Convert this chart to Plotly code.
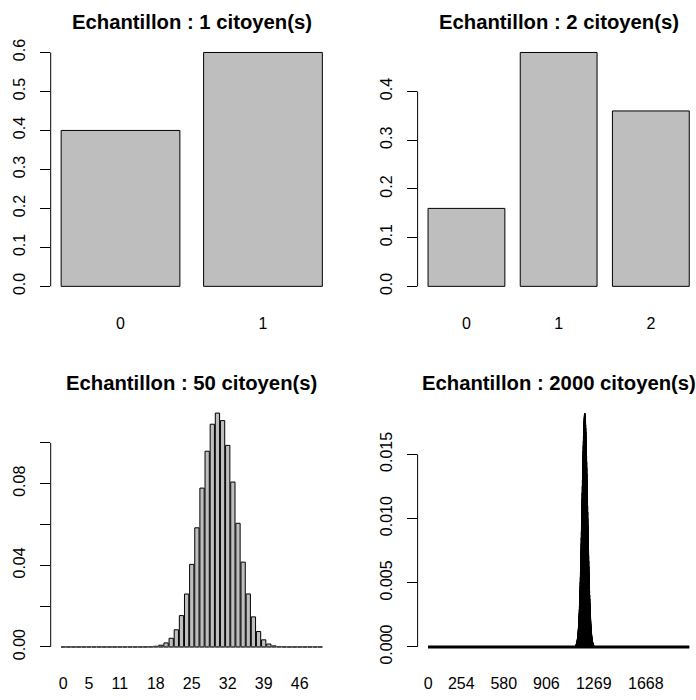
import plotly.graph_objects as go

# ---------------- data ----------------
titles = ["Echantillon : 1 citoyen(s)", "Echantillon : 2 citoyen(s)",
          "Echantillon : 50 citoyen(s)", "Echantillon : 2000 citoyen(s)"]

p1_values = [0.40, 0.60]
p1_labels = ["0", "1"]

p2_values = [0.16, 0.48, 0.36]
p2_labels = ["0", "1", "2"]

p3_values = [0, 0, 0, 0, 0, 0, 0, 0, 0, 0, 0, 0, 0,
             0.0000009, 0.0000035, 0.0000125, 0.000041, 0.000123, 0.000338,
             0.000855, 0.00199, 0.00426, 0.00842, 0.01537, 0.02594, 0.04046,
             0.05836, 0.07781, 0.09588, 0.10910, 0.11456, 0.11087, 0.09874,
             0.08079, 0.06059, 0.04155, 0.02597, 0.01474, 0.00756, 0.00349,
             0.00144, 0.000527, 0.000169, 0.0000472, 0.0000113, 0.0000023,
             0.0000004, 0, 0, 0, 0]
p3_label_idx = [0, 5, 11, 18, 25, 32, 39, 46]

# n = 2000: visible values for k = 1130 .. 1270, zero elsewhere
p4_n = 2000
p4_first_k = 1130
p4_window = [
    0.00011, 0.00013, 0.00015, 0.00017, 0.00019, 0.00022, 0.00026, 0.00029, 0.00033, 0.00038,
    0.00043, 0.00048, 0.00055, 0.00062, 0.00069, 0.00078, 0.00087, 0.00098, 0.00109, 0.00121,
    0.00135, 0.00149, 0.00165, 0.00182, 0.00201, 0.00221, 0.00242, 0.00265, 0.00290, 0.00316,
    0.00344, 0.00374, 0.00405, 0.00437, 0.00472, 0.00508, 0.00546, 0.00586, 0.00627, 0.00669,
    0.00713, 0.00758, 0.00805, 0.00852, 0.00901, 0.00950, 0.00999, 0.01050, 0.01100, 0.01150,
    0.01200, 0.01250, 0.01299, 0.01348, 0.01395, 0.01441, 0.01485, 0.01527, 0.01567, 0.01605,
    0.01641, 0.01674, 0.01704, 0.01730, 0.01754, 0.01774, 0.01791, 0.01804, 0.01813, 0.01819,
    0.01821,
    0.01819, 0.01813, 0.01804, 0.01791, 0.01774, 0.01754, 0.01730, 0.01704, 0.01674, 0.01641,
    0.01605, 0.01567, 0.01527, 0.01485, 0.01441, 0.01395, 0.01348, 0.01299, 0.01250, 0.01200,
    0.01150, 0.01100, 0.01050, 0.00999, 0.00950, 0.00901, 0.00852, 0.00805, 0.00758, 0.00713,
    0.00669, 0.00627, 0.00586, 0.00546, 0.00508, 0.00472, 0.00437, 0.00405, 0.00374, 0.00344,
    0.00316, 0.00290, 0.00265, 0.00242, 0.00221, 0.00201, 0.00182, 0.00165, 0.00149, 0.00135,
    0.00121, 0.00109, 0.00098, 0.00087, 0.00078, 0.00069, 0.00062, 0.00055, 0.00048, 0.00043,
    0.00038, 0.00033, 0.00029, 0.00026, 0.00022, 0.00019, 0.00017, 0.00015, 0.00013, 0.00011,
]
p4_values = ([0.0] * p4_first_k + p4_window +
             [0.0] * (p4_n + 1 - p4_first_k - len(p4_window)))
p4_label_idx = [0, 254, 580, 906, 1269, 1668]

y1_ticks = [0.0, 0.1, 0.2, 0.3, 0.4, 0.5, 0.6]
y1_text = ["0.0", "0.1", "0.2", "0.3", "0.4", "0.5", "0.6"]
y2_ticks = [0.0, 0.1, 0.2, 0.3, 0.4]
y2_text = ["0.0", "0.1", "0.2", "0.3", "0.4"]
y3_ticks = [0.0, 0.02, 0.04, 0.06, 0.08, 0.10]
y3_text = ["0.00", "", "0.04", "", "0.08", ""]
y4_ticks = [0.0, 0.005, 0.010, 0.015]
y4_text = ["0.000", "0.005", "0.010", "0.015"]

# ---------------- layout geometry (pixels) ----------------
W, H = 696, 700
COL_L = [50.7, 417.6]
PLOT_W = 282.1
ROW_T = [39.8, 406.7]
PLOT_H = 257.0
FONT = "Liberation Sans, Arial, Helvetica, sans-serif"

panels = [
    dict(vals=p1_values, idx=list(range(len(p1_values))), txt=p1_labels,
         yt=y1_ticks, ytt=y1_text, col=0, row=0, fill="#BEBEBE", base=None),
    dict(vals=p2_values, idx=list(range(len(p2_values))), txt=p2_labels,
         yt=y2_ticks, ytt=y2_text, col=1, row=0, fill="#BEBEBE", base=None),
    dict(vals=p3_values, idx=p3_label_idx, txt=[str(i) for i in p3_label_idx],
         yt=y3_ticks, ytt=y3_text, col=0, row=1, fill="#BEBEBE",
         base=dict(color="#555555", width=1.2)),
    dict(vals=p4_values, idx=p4_label_idx, txt=[str(i) for i in p4_label_idx],
         yt=y4_ticks, ytt=y4_text, col=1, row=1, fill="#000000",
         base=dict(color="#000000", width=3)),
]

fig = go.Figure()
layout = dict(width=W, height=H, autosize=False,
              margin=dict(l=0, r=0, t=0, b=0),
              paper_bgcolor="white", plot_bgcolor="white",
              showlegend=False, font=dict(family=FONT, size=16, color="black"),
              bargap=0)
annotations = []
shapes = []

for i, p in enumerate(panels):
    n = len(p["vals"])
    centers = [0.7 + 1.2 * k for k in range(n)]
    lo, hi = 0.2, 1.2 * n
    ext = 0.04 * (hi - lo)
    xr = [lo - ext, hi + ext]
    left_px = COL_L[p["col"]]
    right_px = left_px + PLOT_W
    if right_px > W:  # region runs past the canvas edge
        xr[1] = xr[0] + (W - left_px) / PLOT_W * (xr[1] - xr[0])
        right_px = W
    ymax = max(p["vals"])
    yr = [-0.04 * ymax, 1.04 * ymax]
    top_px = ROW_T[p["row"]]
    bot_px = top_px + PLOT_H

    xa = "x" if i == 0 else f"x{i+1}"
    ya = "y" if i == 0 else f"y{i+1}"
    fig.add_trace(go.Bar(
        x=centers, y=p["vals"], width=1.0, xaxis=xa, yaxis=ya,
        marker=dict(color=p["fill"], line=dict(color="black", width=1)),
        hoverinfo="skip"))
    if p["base"] is not None:
        fig.add_trace(go.Scatter(
            x=[centers[0] - 0.5, centers[-1] + 0.5], y=[0, 0], mode="lines",
            line=p["base"], xaxis=xa, yaxis=ya, hoverinfo="skip"))

    key = "" if i == 0 else str(i + 1)
    layout["xaxis" + key] = dict(
        domain=[left_px / W, right_px / W], range=xr, anchor=ya,
        showgrid=False, zeroline=False, showline=False, ticks="",
        tickmode="array", tickvals=[centers[k] for k in p["idx"]],
        ticktext=p["txt"], tickfont=dict(size=16, family=FONT),
        ticklabelstandoff=16, fixedrange=True)
    layout["yaxis" + key] = dict(
        domain=[1 - bot_px / H, 1 - top_px / H], range=yr, anchor=xa,
        showgrid=False, zeroline=False, showline=False,
        ticks="outside", ticklen=10, tickwidth=1, tickcolor="black",
        tickmode="array", tickvals=p["yt"], ticktext=p["ytt"],
        tickangle=-90, tickfont=dict(size=16, family=FONT),
        ticklabelstandoff=8, fixedrange=True)
    shapes.append(dict(type="line", xref=xa + " domain", yref=ya,
                       x0=0, x1=0, y0=p["yt"][0], y1=p["yt"][-1],
                       line=dict(color="black", width=1)))
    annotations.append(dict(
        text="<b>" + titles[i] + "</b>", xref="paper", yref="paper",
        x=(left_px + PLOT_W / 2) / W, y=1 - (top_px - 21) / H,
        xanchor="center", yanchor="middle", showarrow=False,
        font=dict(size=20.3, family=FONT, color="black")))

layout["annotations"] = annotations
layout["shapes"] = shapes
fig.update_layout(**layout)
fig.write_html("out.html",
               config={"displayModeBar": False, "staticPlot": True},
               post_script="document.body.style.margin='0';"
                           "document.body.style.overflow='hidden';")
